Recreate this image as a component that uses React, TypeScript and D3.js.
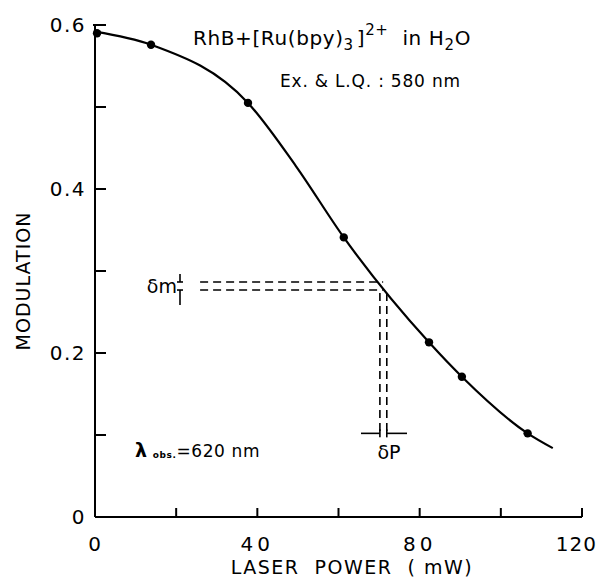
import { useEffect, useRef } from 'react';
import * as d3 from 'd3';

// measured points
const powerMW = [0.5, 13.8, 37.7, 61.3, 82.3, 90.4, 106.6];
const modulation = [0.59, 0.576, 0.505, 0.341, 0.213, 0.171, 0.102];

// hand-drawn fit curve
const fitPower = [0, 13.8, 37.7, 49.5, 61.3, 82.3, 90.4, 106.6, 112.8];
const fitModulation = [0.592, 0.576, 0.505, 0.428, 0.341, 0.213, 0.171, 0.102, 0.084];

const xTicks = [0, 20, 40, 60, 80, 100, 120];
const xTickLabels = ['0', '40', '80', '120'];
const yTicks = [0, 0.1, 0.2, 0.3, 0.4, 0.5, 0.6];
const yTickLabels = ['0', '0.2', '0.4', '0.6'];

const FONT = "'DejaVu Sans', sans-serif";

export default function App() {
  const ref = useRef<SVGSVGElement>(null);

  useEffect(() => {
    if (!ref.current) return;
    const svg = d3.select(ref.current);
    svg.selectAll('*').remove();

    const x = d3.scaleLinear().domain([0, 120]).range([95, 582]);
    const y = d3.scaleLinear().domain([0, 0.6]).range([517, 25]);

    const g = svg.append('g').attr('font-family', FONT).attr('fill', '#000');

    // axes lines
    g.append('line').attr('x1', x(0)).attr('x2', x(0)).attr('y1', y(0)).attr('y2', y(0.6))
      .attr('stroke', '#000').attr('stroke-width', 2);
    g.append('line').attr('x1', x(0)).attr('x2', x(120)).attr('y1', y(0)).attr('y2', y(0))
      .attr('stroke', '#000').attr('stroke-width', 2);

    // y ticks (inward)
    yTicks.forEach((t) => {
      g.append('line').attr('x1', x(0) - (t === 0.6 ? 2 : 0)).attr('x2', x(0) + 11)
        .attr('y1', y(t)).attr('y2', y(t)).attr('stroke', '#000').attr('stroke-width', 2);
    });
    // x ticks (inward)
    xTicks.forEach((t) => {
      g.append('line').attr('x1', x(t)).attr('x2', x(t))
        .attr('y1', y(0)).attr('y2', y(0) - 9).attr('stroke', '#000').attr('stroke-width', 2);
    });

    // tick labels
    yTickLabels.forEach((s) => {
      g.append('text').attr('x', x(0) - 9).attr('y', y(+s)).attr('text-anchor', 'end')
        .attr('dominant-baseline', 'central').attr('font-size', 20).attr('letter-spacing', 1.5)
        .text(s);
    });
    xTickLabels.forEach((s) => {
      const isLast = s === '120';
      g.append('text').attr('x', isLast ? 597 : x(+s)).attr('y', y(0) + 27)
        .attr('text-anchor', isLast ? 'end' : 'middle')
        .attr('dominant-baseline', 'central').attr('font-size', 20)
        .attr('letter-spacing', s === '40' || s === '80' ? 4 : 1).text(s);
    });

    // axis titles
    g.append('text').attr('x', 352).attr('y', 567).attr('text-anchor', 'middle')
      .attr('dominant-baseline', 'central').attr('font-size', 19).attr('letter-spacing', 1.5)
      .attr('xml:space', 'preserve').text('LASER  POWER  ( mW)');
    g.append('text').attr('transform', 'translate(23,281) rotate(-90)').attr('text-anchor', 'middle')
      .attr('dominant-baseline', 'central').attr('font-size', 19).attr('letter-spacing', 1)
      .text('MODULATION');

    // fit curve
    const fit = fitPower.map((p, i) => [x(p), y(fitModulation[i])] as [number, number]);
    g.append('path').attr('d', d3.line().curve(d3.curveMonotoneX)(fit))
      .attr('fill', 'none').attr('stroke', '#000').attr('stroke-width', 2.2);

    // points
    powerMW.forEach((p, i) => {
      g.append('circle').attr('cx', x(p)).attr('cy', y(modulation[i])).attr('r', 4.2).attr('fill', '#000');
    });

    // delta-m / delta-P dashed construction
    const dash = '8,5';
    const m1 = 0.2866, m2 = 0.2768, p1 = 70.2, p2 = 71.9, x0 = 25.9, mLow = 0.102;
    [m1, m2].forEach((m) => {
      g.append('line').attr('x1', x(x0)).attr('x2', x(71)).attr('y1', y(m)).attr('y2', y(m))
        .attr('stroke', '#000').attr('stroke-width', 1.6).attr('stroke-dasharray', dash);
    });
    [p1, p2].forEach((p) => {
      g.append('line').attr('x1', x(p)).attr('x2', x(p)).attr('y1', y(m2) + 3).attr('y2', y(mLow))
        .attr('stroke', '#000').attr('stroke-width', 1.6).attr('stroke-dasharray', dash);
    });

    // delta-m marks
    const mx = 180;
    g.append('line').attr('x1', mx).attr('x2', mx).attr('y1', y(m1) - 8).attr('y2', y(m1))
      .attr('stroke', '#000').attr('stroke-width', 1.6);
    g.append('line').attr('x1', mx - 3).attr('x2', mx + 3).attr('y1', y(m1)).attr('y2', y(m1))
      .attr('stroke', '#000').attr('stroke-width', 1.6);
    g.append('line').attr('x1', mx).attr('x2', mx).attr('y1', y(m2)).attr('y2', y(m2) + 15)
      .attr('stroke', '#000').attr('stroke-width', 1.6);
    g.append('line').attr('x1', mx - 3).attr('x2', mx + 3).attr('y1', y(m2)).attr('y2', y(m2))
      .attr('stroke', '#000').attr('stroke-width', 1.6);
    g.append('text').attr('x', 177).attr('y', y((m1 + m2) / 2)).attr('text-anchor', 'end')
      .attr('dominant-baseline', 'central').attr('font-size', 19).text('δm');

    // delta-P marks
    const py = y(mLow);
    g.append('line').attr('x1', 361).attr('x2', x(p1)).attr('y1', py).attr('y2', py)
      .attr('stroke', '#000').attr('stroke-width', 1.6);
    g.append('line').attr('x1', x(p2)).attr('x2', 407).attr('y1', py).attr('y2', py)
      .attr('stroke', '#000').attr('stroke-width', 1.6);
    [p1, p2].forEach((p) => {
      g.append('line').attr('x1', x(p)).attr('x2', x(p)).attr('y1', py - 4).attr('y2', py + 4)
        .attr('stroke', '#000').attr('stroke-width', 1.6);
    });
    g.append('text').attr('x', 389).attr('y', 452).attr('text-anchor', 'middle')
      .attr('dominant-baseline', 'central').attr('font-size', 19).text('δP');

    // title block
    const t = g.append('text').attr('x', 193).attr('y', 45).attr('font-size', 20)
      .attr('letter-spacing', 0.6);
    t.append('tspan').text('RhB+[Ru(bpy)');
    t.append('tspan').attr('font-size', 15).attr('dy', 5).text('3');
    t.append('tspan').attr('dy', -5).attr('dx', 3).text(']');
    t.append('tspan').attr('font-size', 15).attr('dy', -10).text('2+');
    t.append('tspan').attr('dy', 10).attr('dx', 14).text('in  H');
    t.append('tspan').attr('font-size', 15).attr('dy', 5).text('2');
    t.append('tspan').attr('dy', -5).text('O');

    g.append('text').attr('x', 280).attr('y', 87).attr('font-size', 17).attr('letter-spacing', 0.8)
      .text('Ex. & L.Q. : 580 nm');

    const l = g.append('text').attr('x', 135).attr('y', 457).attr('font-size', 17)
      .attr('letter-spacing', 0.6);
    l.append('tspan').attr('font-weight', 'bold').attr('font-size', 19).text('λ');
    l.append('tspan').attr('font-size', 9).attr('font-weight', 'bold').attr('dx', 5).attr('dy', 1)
      .text('obs.');
    l.append('tspan').attr('dy', -1).text('=620 nm');
  }, []);

  return (
    <svg ref={ref} width={599} height={583}
      style={{ position: 'absolute', left: 0, top: 0, background: '#fff' }} />
  );
}
